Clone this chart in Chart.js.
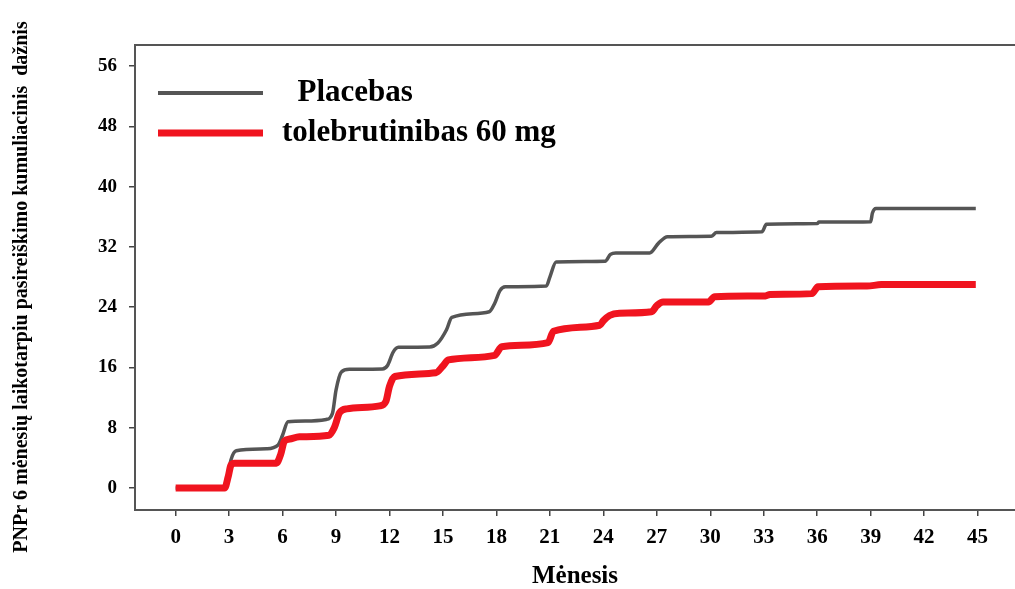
<!DOCTYPE html>
<html>
<head>
<meta charset="utf-8">
<script src="https://cdn.jsdelivr.net/npm/chart.js@4.4.1/dist/chart.umd.min.js"></script>
<style>
    html, body { margin: 0; padding: 0; background: #fff; }
    #wrap { width: 1015px; height: 589px; }
</style>
</head>
<body>
<div id="wrap"><canvas id="cumChart"></canvas></div>
<script>
// Kumuliacinis dažnis (month, value)
const placebasMonths = [0, 2.8, 3.1, 3.4, 5.1, 5.75, 6.0, 6.3, 7.3, 8.45, 8.8, 9.0, 9.3, 9.75, 11.6, 11.9, 12.2, 12.5, 14.25, 14.7, 15.2, 15.5, 17.6, 17.9, 18.2, 18.5, 20.8, 21.0, 21.35, 24.1, 24.4, 24.7, 26.6, 27.1, 27.6, 30.05, 30.35, 32.9, 33.15, 36.0, 36.1, 39.0, 39.1, 39.3, 44.9];
const placebasValues = [0, 0, 3.7, 4.95, 5.2, 5.7, 7.0, 8.8, 8.9, 9.1, 9.9, 13.0, 15.4, 15.75, 15.8, 16.3, 18.0, 18.67, 18.7, 19.2, 21.0, 22.65, 23.4, 24.5, 26.2, 26.7, 26.8, 28.0, 30.0, 30.1, 31.0, 31.2, 31.2, 32.5, 33.35, 33.4, 33.9, 34.0, 35.0, 35.1, 35.3, 35.35, 36.5, 37.1, 37.1];

const toleMonths = [0, 2.75, 2.95, 3.1, 3.3, 5.65, 5.9, 6.1, 6.4, 6.95, 8.6, 8.9, 9.2, 9.6, 11.45, 11.8, 12.0, 12.3, 14.6, 15.0, 15.3, 17.9, 18.3, 20.9, 21.2, 23.8, 24.0, 24.35, 24.9, 26.7, 27.0, 27.35, 29.9, 30.25, 33.1, 33.35, 35.7, 36.05, 38.8, 39.6, 44.9];
const toleValues = [0, 0, 1.5, 3.0, 3.27, 3.3, 4.5, 6.2, 6.5, 6.8, 7.0, 8.0, 10.0, 10.5, 10.9, 11.5, 13.5, 14.8, 15.3, 16.2, 17.0, 17.6, 18.75, 19.3, 20.8, 21.6, 22.2, 22.9, 23.2, 23.4, 24.2, 24.7, 24.7, 25.4, 25.5, 25.7, 25.8, 26.7, 26.8, 27.0, 27.0];

const xTicks = [0, 3, 6, 9, 12, 15, 18, 21, 24, 27, 30, 33, 36, 39, 42, 45];
const yTicks = [0, 8, 16, 24, 32, 40, 48, 56];

const seriesLabels = ["  Placebas", "tolebrutinibas 60 mg"];
const seriesColors = ["#555555", "#f0141f"];

const serif = "'Liberation Serif', 'Times New Roman', serif";

function pts(xs, ys) {
    return xs.map((x, i) => ({ x: x, y: ys[i] }));
}

// frame top line, legend and axis titles
const extras = {
    id: "extras",
    afterDraw(chart) {
        const ctx = chart.ctx;
        const a = chart.chartArea;
        ctx.save();
        ctx.strokeStyle = "#555";
        ctx.lineWidth = 2;
        ctx.beginPath();
        ctx.moveTo(a.left, a.top);
        ctx.lineTo(a.right, a.top);
        ctx.stroke();

        // legend
        const rows = [
            { y: 93, w: 4 },
            { y: 133, w: 7 },
        ];
        ctx.font = "bold 31px " + serif;
        ctx.textBaseline = "middle";
        ctx.fillStyle = "#000";
        rows.forEach((r, i) => {
            ctx.strokeStyle = seriesColors[i];
            ctx.lineWidth = r.w;
            ctx.beginPath();
            ctx.moveTo(158, r.y);
            ctx.lineTo(263, r.y);
            ctx.stroke();
            ctx.fillText(seriesLabels[i], 282, r.y);
        });

        // axis titles
        ctx.textAlign = "center";
        ctx.font = "bold 25px " + serif;
        ctx.fillText("Mėnesis", (a.left + a.right) / 2, 577);

        ctx.translate(22, 287);
        ctx.rotate(-Math.PI / 2);
        ctx.font = "bold 20px " + serif;
        ctx.fillText("PNPr 6 mėnesių laikotarpiu pasireiškimo kumuliacinis  dažnis", 0, 0);
        ctx.restore();
    },
};

document.addEventListener("DOMContentLoaded", function () {
    const el = document.getElementById("cumChart");
    new Chart(el.getContext("2d"), {
        type: "line",
        data: {
            datasets: [
                {
                    label: seriesLabels[0],
                    data: pts(placebasMonths, placebasValues),
                    borderColor: seriesColors[0],
                    borderWidth: 3.5,
                    pointRadius: 0,
                    cubicInterpolationMode: "monotone",
                    order: 1,
                },
                {
                    label: seriesLabels[1],
                    data: pts(toleMonths, toleValues),
                    borderColor: seriesColors[1],
                    borderWidth: 7,
                    pointRadius: 0,
                    cubicInterpolationMode: "monotone",
                    order: 0,
                },
            ],
        },
        options: {
            responsive: true,
            maintainAspectRatio: false,
            animation: false,
            layout: { padding: { top: 45, left: 0, right: 0, bottom: 0 } },
            plugins: {
                legend: { display: false },
                tooltip: { enabled: false },
            },
            scales: {
                x: {
                    type: "linear",
                    min: -2.28,
                    max: 47.1,
                    afterBuildTicks: (s) => { s.ticks = xTicks.map((v) => ({ value: v })); },
                    afterFit: (s) => { s.height = 79; },
                    grid: { drawOnChartArea: false, drawTicks: true, tickLength: 6, color: "#444", lineWidth: 1.5 },
                    border: { display: true, color: "#555", width: 2 },
                    ticks: {
                        color: "#000",
                        padding: 9,
                        maxRotation: 0,
                        font: { family: serif, size: 21, weight: "bold" },
                    },
                },
                y: {
                    min: -2.92,
                    max: 58.8,
                    afterBuildTicks: (s) => { s.ticks = yTicks.map((v) => ({ value: v })); },
                    afterFit: (s) => { s.width = 135; },
                    grid: { drawOnChartArea: false, drawTicks: true, tickLength: 6, color: "#444", lineWidth: 1.5 },
                    border: { display: true, color: "#555", width: 2 },
                    ticks: {
                        color: "#000",
                        padding: 12,
                        font: { family: serif, size: 19, weight: "bold" },
                    },
                },
            },
        },
        plugins: [extras],
    });
});
</script>
</body>
</html>
